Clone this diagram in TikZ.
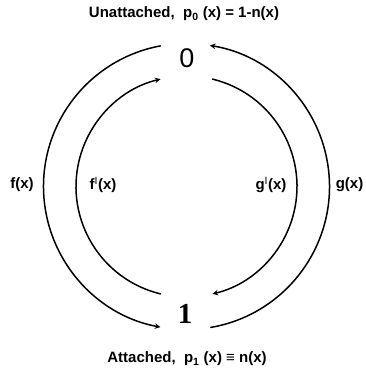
\documentclass[tikz,border=0pt]{standalone}
\usepackage{fontspec}
\setmainfont{Liberation Sans}
\newfontfamily\digitfont{Liberation Serif}
\usetikzlibrary{calc}
\tikzset{
  rate/.style={font=\bfseries\fontsize{15}{17}\selectfont, inner sep=0pt},
  statenum/.style={inner sep=0pt},
  flux/.style={line width=1.5pt, ->}
}
\newcommand{\tick}{\textsuperscript{\mdseries I}}
\begin{document}
\begin{tikzpicture}[line join=round, line cap=round, >=stealth, x=1pt, y=-1pt]
  \useasboundingbox (0,0) rectangle (365,380);
  \coordinate (mid) at (186.5,186.5);
  % the two states
  \node[statenum, font=\fontsize{27}{28}\selectfont] (n0) at (187,58) {0};
  \node[statenum, font=\digitfont\bfseries\fontsize{29}{30}\selectfont] (n1) at (185,314) {1};
  \node[rate] (top) at (184,14) {Unattached,\ \ p\textsubscript{0} (x) = 1-n(x)};
  \node[rate] (bot) at (187,359) {Attached,\ \ p\textsubscript{1} (x) ≡ n(x)};
  % outer pair of fluxes
  \draw[flux] ($(mid)+(259.5:143)$) coordinate (fa) arc[start angle=259.5, end angle=100.5, radius=143];
  \draw[flux] ($(mid)+(80.2:143)$) coordinate (ga) arc[start angle=80.2, end angle=-80.6, radius=143];
  % inner pair
  \draw[flux] ($(mid)+(103.6:110.5)$) coordinate (fb) arc[start angle=103.6, end angle=256.4, radius=110.5];
  \draw[flux] ($(mid)+(-76.4:110.5)$) coordinate (gb) arc[start angle=-76.4, end angle=76.4, radius=110.5];
  % rates
  \node[rate] (f) at (22,185) {f(x)};
  \node[rate] (fp) at (103,185) {f\tick(x)};
  \node[rate] (gp) at (271,185) {g\tick(x)};
  \node[rate, anchor=east] (g) at (363.5,185) {g(x)};
\end{tikzpicture}
\end{document}
